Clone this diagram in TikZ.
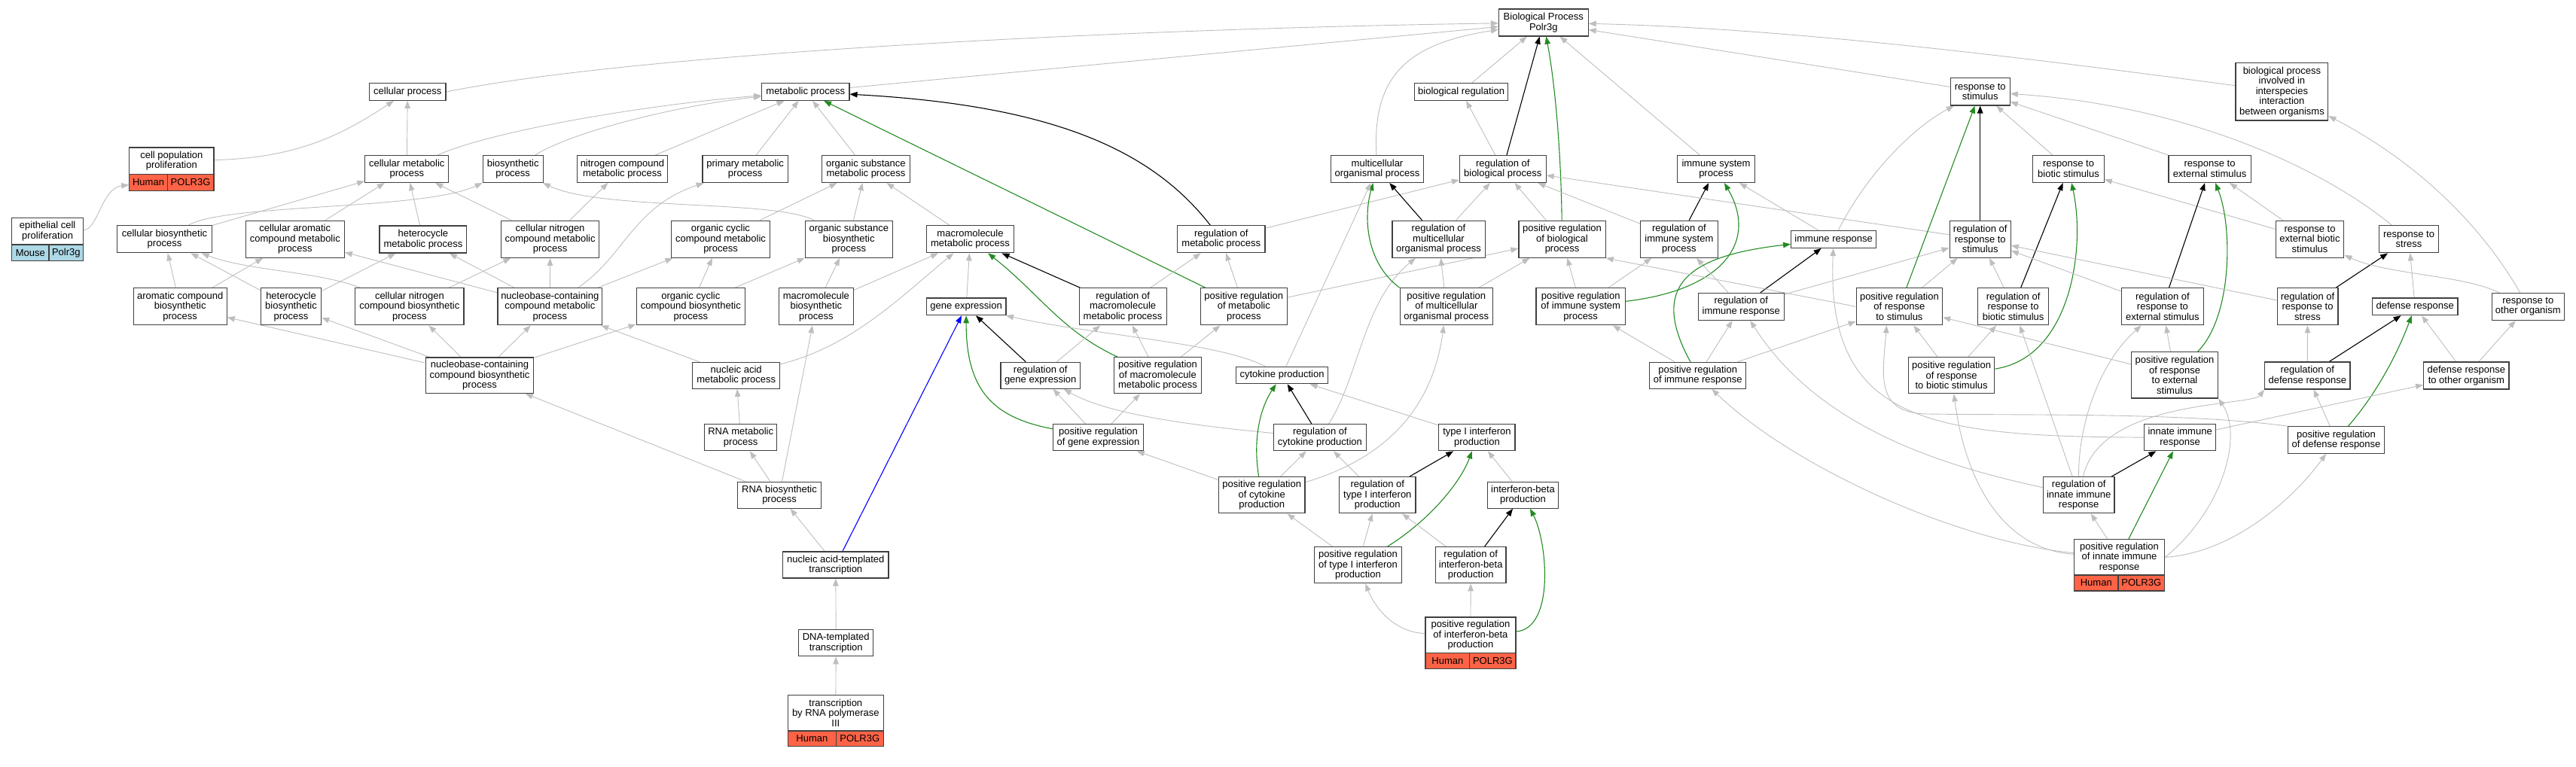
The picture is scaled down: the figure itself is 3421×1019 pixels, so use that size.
\documentclass[tikz,border=0pt]{standalone}
\usepackage{fontspec}
\setmainfont{Liberation Sans}
\usetikzlibrary{shapes,arrows.meta,positioning,backgrounds}
\definecolor{edgegray}{RGB}{190,190,190}
\definecolor{edgegreen}{RGB}{34,139,34}
\definecolor{edgeblue}{RGB}{0,0,255}
\definecolor{humanred}{RGB}{255,99,71}
\definecolor{mouseblue}{RGB}{173,216,230}
\definecolor{boxline}{RGB}{64,64,64}

\begin{document}
\begin{tikzpicture}[x=1pt, y=-1pt,
    term/.style={draw=boxline, line width=1.2pt, fill=white, rectangle, align=center, inner sep=0pt, font=\fontsize{13}{13.5}\selectfont},
    human/.style={term, fill=humanred},
    mouse/.style={term, fill=mouseblue},
    isa/.style={draw=edgegray, line width=0.9pt, -{Triangle[length=10pt,width=7.5pt]}},
    regl/.style={draw=black, line width=1.1pt, -{Triangle[length=10pt,width=7.5pt]}},
    posreg/.style={draw=edgegreen, line width=1.1pt, -{Triangle[length=10pt,width=7.5pt]}},
    partof/.style={draw=edgeblue, line width=1.1pt, -{Triangle[length=10pt,width=7.5pt]}}]
\useasboundingbox (0,0) rectangle (3421,1019);

% Root and first level
\node[term, minimum width=118.6, minimum height=36] (bp) at (2049.8,30) {Biological Process\\Polr3g};
\node[term, minimum width=101.4, minimum height=22.7] (cp) at (541.3,122) {cellular process};
\node[term, minimum width=116.3, minimum height=22.7] (mp) at (1069.8,122) {metabolic process};
\node[term, minimum width=124.3, minimum height=22.7] (breg) at (1940.6,122) {biological regulation};
\node[term, minimum width=78.9, minimum height=36.3] (rs) at (2629.7,121.8) {response to\\stimulus};
\node[term, minimum width=122.7, minimum height=76.3] (bpi) at (3030.4,121.8) {biological process\\involved in\\interspecies\\interaction\\between organisms};

% Second level
\node[term, minimum width=112.1, minimum height=35.7] (cpp) at (227.85,213.85) {cell population\\proliferation};
\node[human, minimum width=50.5, minimum height=21.6] (cppH) at (197.05,242.5) {Human};
\node[human, minimum width=61.6, minimum height=21.6] (cppG) at (253.1,242.5) {POLR3G};
\node[term, minimum width=111, minimum height=36] (cmp) at (540.3,224.5) {cellular metabolic\\process};
\node[term, minimum width=79.9, minimum height=36] (bsp) at (681.2,224.5) {biosynthetic\\process};
\node[term, minimum width=120.2, minimum height=36] (ncmp) at (826.4,224.5) {nitrogen compound\\metabolic process};
\node[term, minimum width=113.3, minimum height=36] (pmp) at (989.7,224.5) {primary metabolic\\process};
\node[term, minimum width=116.5, minimum height=36] (osmp) at (1149.9,224.5) {organic substance\\metabolic process};
\node[term, minimum width=123.2, minimum height=36] (mop) at (1829,224.5) {multicellular\\organismal process};
\node[term, minimum width=114.8, minimum height=36] (rbp) at (1995.8,224.5) {regulation of\\biological process};
\node[term, minimum width=103.1, minimum height=36] (isp) at (2279,224.5) {immune system\\process};
\node[term, minimum width=94.5, minimum height=36] (rbs) at (2747,224.5) {response to\\biotic stimulus};
\node[term, minimum width=109.2, minimum height=36] (res) at (2934.5,224.5) {response to\\external stimulus};

% Third level
\node[term, minimum width=94.9, minimum height=35.7] (ecp) at (63.15,307.15) {epithelial cell\\proliferation};
\node[mouse, minimum width=49.3, minimum height=21.7] (ecpM) at (40.35,335.85) {Mouse};
\node[mouse, minimum width=45.6, minimum height=21.7] (ecpG) at (87.8,335.85) {Polr3g};
\node[term, minimum width=125.6, minimum height=36] (cbp) at (218.5,317.8) {cellular biosynthetic\\process};
\node[term, minimum width=130.9, minimum height=49] (cacmp) at (391.8,317.8) {cellular aromatic\\compound metabolic\\process};
\node[term, minimum width=115.7, minimum height=36] (hmp) at (561.9,318) {heterocycle\\metabolic process};
\node[term, minimum width=130.5, minimum height=49] (cncmp) at (730.6,317.8) {cellular nitrogen\\compound metabolic\\process};
\node[term, minimum width=130.5, minimum height=49] (occmp) at (957,317.8) {organic cyclic\\compound metabolic\\process};
\node[term, minimum width=115.8, minimum height=49] (osbp) at (1127.3,317.8) {organic substance\\biosynthetic\\process};
\node[term, minimum width=116.3, minimum height=36] (mmp) at (1288.5,317.8) {macromolecule\\metabolic process};
\node[term, minimum width=116.3, minimum height=36] (rmp) at (1621.8,317.8) {regulation of\\metabolic process};
\node[term, minimum width=123.2, minimum height=49] (rmop) at (1910.5,317.8) {regulation of\\multicellular\\organismal process};
\node[term, minimum width=115.2, minimum height=49] (prbp) at (2074.5,317.8) {positive regulation\\of biological\\process};
\node[term, minimum width=102.9, minimum height=49] (risp) at (2229.9,317.8) {regulation of\\immune system\\process};
\node[term, minimum width=112.9, minimum height=22.7] (ir) at (2435.1,318) {immune response};
\node[term, minimum width=81.1, minimum height=49] (rrs) at (2629.7,317.8) {regulation of\\response to\\stimulus};
\node[term, minimum width=90.7, minimum height=49] (rebs) at (3067.5,317.8) {response to\\external biotic\\stimulus};
\node[term, minimum width=78.3, minimum height=36] (rst) at (3199,317.8) {response to\\stress};

% Fourth level
\node[term, minimum width=123.9, minimum height=49] (acbp) at (239.2,407.3) {aromatic compound\\biosynthetic\\process};
\node[term, minimum width=80.4, minimum height=49] (hbp) at (386.5,407.3) {heterocycle\\biosynthetic\\process};
\node[term, minimum width=144.1, minimum height=49] (cncbp) at (543.9,407.3) {cellular nitrogen\\compound biosynthetic\\process};
\node[term, minimum width=138.5, minimum height=49] (nccmp) at (730.3,407.3) {nucleobase-containing\\compound metabolic\\process};
\node[term, minimum width=144.3, minimum height=49] (occbp) at (917.3,407.3) {organic cyclic\\compound biosynthetic\\process};
\node[term, minimum width=98.8, minimum height=49] (mbp) at (1083.9,407.3) {macromolecule\\biosynthetic\\process};
\node[term, minimum width=105.6, minimum height=22.7] (ge) at (1283.1,407.3) {gene expression};
\node[term, minimum width=116, minimum height=49] (rmmp) at (1491.1,407.3) {regulation of\\macromolecule\\metabolic process};
\node[term, minimum width=115.2, minimum height=49] (prmp) at (1651.8,407.3) {positive regulation\\of metabolic\\process};
\node[term, minimum width=123.2, minimum height=49] (prmop) at (1920.8,407.3) {positive regulation\\of multicellular\\organismal process};
\node[term, minimum width=118.6, minimum height=49] (prisp) at (2099.2,407.3) {positive regulation\\of immune system\\process};
\node[term, minimum width=113.9, minimum height=36] (rir) at (2312.3,407.3) {regulation of\\immune response};
\node[term, minimum width=114.4, minimum height=49] (prrs) at (2522.4,407.3) {positive regulation\\of response\\to stimulus};
\node[term, minimum width=94.5, minimum height=49] (rrbs) at (2673.6,407.3) {regulation of\\response to\\biotic stimulus};
\node[term, minimum width=109.2, minimum height=49] (rres) at (2871.9,407.3) {regulation of\\response to\\external stimulus};
\node[term, minimum width=80.8, minimum height=49] (rrst) at (3064.5,407.3) {regulation of\\response to\\stress};
\node[term, minimum width=113.6, minimum height=22.7] (dr) at (3207.2,407.3) {defense response};
\node[term, minimum width=96.1, minimum height=36] (rog) at (3357.3,407.3) {response to\\other organism};

% Fifth level
\node[term, minimum width=143.7, minimum height=47.3] (ncbp) at (637,498.7) {nucleobase-containing\\compound biosynthetic\\process};
\node[term, minimum width=116.1, minimum height=35] (namp) at (977.7,498.8) {nucleic acid\\metabolic process};
\node[term, minimum width=105.4, minimum height=35] (rge) at (1381.7,498.8) {regulation of\\gene expression};
\node[term, minimum width=116, minimum height=48] (prmmp) at (1537.5,498.8) {positive regulation\\of macromolecule\\metabolic process};
\node[term, minimum width=122.7, minimum height=22.5] (cytp) at (1702.5,498.5) {cytokine production};
\node[term, minimum width=128.2, minimum height=35] (prir) at (2254.7,498.8) {positive regulation\\of immune response};
\node[term, minimum width=114.3, minimum height=48] (prrbs) at (2591.6,498.8) {positive regulation\\of response\\to biotic stimulus};
\node[term, minimum width=115.1, minimum height=61.3] (prres) at (2888,498.3) {positive regulation\\of response\\to external\\stimulus};
\node[term, minimum width=113.3, minimum height=36] (rdr) at (3064.3,499) {regulation of\\defense response};
\node[term, minimum width=113.3, minimum height=36] (drog) at (3275.3,499) {defense response\\to other organism};

% Sixth level
\node[term, minimum width=96, minimum height=35] (rnamp) at (983.7,581.3) {RNA metabolic\\process};
\node[term, minimum width=119.6, minimum height=35] (prge) at (1458.5,581.3) {positive regulation\\of gene expression};
\node[term, minimum width=122.8, minimum height=35] (rcp) at (1752.9,581.3) {regulation of\\cytokine production};
\node[term, minimum width=101.3, minimum height=35] (t1ip) at (1961.4,581.3) {type I interferon\\production};
\node[term, minimum width=94.6, minimum height=35] (iir) at (2895.1,581.3) {innate immune\\response};
\node[term, minimum width=128.4, minimum height=35.6] (prdr) at (3102.5,584.5) {positive regulation\\of defense response};

% Seventh level
\node[term, minimum width=111.1, minimum height=35] (rnabp) at (1035,657.7) {RNA biosynthetic\\process};
\node[term, minimum width=114.7, minimum height=48] (prcp) at (1675.7,657.8) {positive regulation\\of cytokine\\production};
\node[term, minimum width=101.3, minimum height=48] (rt1ip) at (1829.3,657.8) {regulation of\\type I interferon\\production};
\node[term, minimum width=93.3, minimum height=35] (ibp) at (2022.5,657.7) {interferon-beta\\production};
\node[term, minimum width=94.6, minimum height=48] (riir) at (2760.7,657.8) {regulation of\\innate immune\\response};

% Eighth level and below
\node[term, minimum width=140.2, minimum height=35] (natt) at (1109.8,750.5) {nucleic acid-templated\\transcription};
\node[term, minimum width=115.7, minimum height=48] (prt1ip) at (1803.4,750.8) {positive regulation\\of type I interferon\\production};
\node[term, minimum width=93.7, minimum height=48] (ribp) at (1953.2,750.8) {regulation of\\interferon-beta\\production};
\node[term, minimum width=120.1, minimum height=47.3] (priir) at (2814.55,740.35) {positive regulation\\of innate immune\\response};
\node[human, minimum width=58.5, minimum height=21] (priirH) at (2783.75,774.5) {Human};
\node[human, minimum width=61.6, minimum height=21] (priirG) at (2843.8,774.5) {POLR3G};
\node[term, minimum width=99.1, minimum height=35] (dtt) at (1110.2,854.2) {DNA-templated\\transcription};
\node[term, minimum width=120, minimum height=47.7] (pribp) at (1952.9,843.85) {positive regulation\\of interferon-beta\\production};
\node[human, minimum width=58.9, minimum height=20.6] (pribpH) at (1922.35,878) {Human};
\node[human, minimum width=61.1, minimum height=20.6] (pribpG) at (1982.35,878) {POLR3G};
\node[term, minimum width=126.8, minimum height=47.7] (trp3) at (1109.8,947.15) {transcription\\by RNA polymerase\\III};
\node[human, minimum width=63.9, minimum height=20.7] (trp3H) at (1078.35,981.35) {Human};
\node[human, minimum width=62.9, minimum height=20.7] (trp3G) at (1141.75,981.35) {POLR3G};

\begin{scope}[on background layer]
% Connections to the root
\draw[isa] (cp.east) .. controls (850,70) and (1500,38) .. (bp);
\draw[isa] (mp) -- (bp);
\draw[isa] (mop) .. controls (1822,100) and (1870,58) .. (bp);
\draw[isa] (breg) -- (bp);
\draw[regl] (rbp) -- (bp);
\draw[posreg] (prbp) .. controls (2073,200) and (2065,110) .. (bp);
\draw[isa] (isp) -- (bp);
\draw[isa] (rs) -- (bp);
\draw[isa] (bpi) .. controls (2750,85) and (2400,38) .. (bp);

% Cellular and metabolic branch
\draw[isa] (cpp) .. controls (400,210) and (460,175) .. (cp);
\draw[isa] (ecp) .. controls (130,305) and (135,250) .. (cppH);
\draw[isa] (cmp) -- (cp);
\draw[isa] (cmp) .. controls (650,175) and (850,140) .. (mp);
\draw[isa] (bsp) .. controls (760,175) and (900,140) .. (mp);
\draw[isa] (ncmp) -- (mp);
\draw[isa] (pmp) -- (mp);
\draw[isa] (osmp) -- (mp);
\draw[posreg] (prmp) -- (mp);
\draw[regl] (rmp) .. controls (1530,200) and (1400,140) .. (mp);
\draw[isa] (rbp) -- (breg);
\draw[isa] (cbp) -- (cmp);
\draw[isa] (cbp) .. controls (300,270) and (560,280) .. (bsp);
\draw[isa] (cacmp) -- (cmp);
\draw[isa] (hmp) -- (cmp);
\draw[isa] (cncmp) -- (cmp);
\draw[isa] (cncmp) -- (ncmp);
\draw[isa] (nccmp) -- (cacmp);
\draw[isa] (nccmp) -- (hmp);
\draw[isa] (nccmp) -- (cncmp);
\draw[isa] (nccmp) -- (occmp);
\draw[isa] (nccmp) .. controls (830,340) and (840,275) .. (pmp);
\draw[isa] (occmp) -- (osmp);
\draw[isa] (osbp) -- (osmp);
\draw[isa] (osbp) .. controls (1030,265) and (800,280) .. (bsp);
\draw[isa] (mmp) -- (osmp);
\draw[isa] (acbp) -- (cbp);
\draw[isa] (acbp) -- (cacmp);
\draw[isa] (hbp) -- (cbp);
\draw[isa] (hbp) -- (hmp);
\draw[isa] (cncbp) .. controls (420,360) and (330,360) .. (cbp);
\draw[isa] (cncbp) -- (cncmp);
\draw[isa] (ncbp) -- (acbp);
\draw[isa] (ncbp) -- (hbp);
\draw[isa] (ncbp) -- (cncbp);
\draw[isa] (ncbp) -- (nccmp);
\draw[isa] (ncbp) -- (occbp);
\draw[isa] (occbp) -- (occmp);
\draw[isa] (occbp) -- (osbp);
\draw[isa] (mbp) -- (osbp);
\draw[isa] (mbp) -- (mmp);
\draw[isa] (namp) .. controls (1130,460) and (1190,400) .. (mmp);
\draw[isa] (namp) -- (nccmp);
\draw[isa] (ge) -- (mmp);
\draw[regl] (rmmp) -- (mmp);
\draw[posreg] (prmmp) .. controls (1410,440) and (1380,390) .. (mmp);
\draw[isa] (rmmp) -- (rmp);
\draw[isa] (prmp) -- (rmp);
\draw[isa] (rmp) -- (rbp);
\draw[isa] (prmp) -- (prbp);
\draw[isa] (prmmp) -- (rmmp);
\draw[isa] (prmmp) -- (prmp);

% Gene expression and transcription
\draw[regl] (rge) -- (ge);
\draw[isa] (rge) -- (rmmp);
\draw[partof] (natt) -- (ge);
\draw[posreg] (prge) .. controls (1320,555) and (1283,520) .. (ge);
\draw[isa] (cytp) .. controls (1620,455) and (1450,445) .. (ge);
\draw[isa] (prge) -- (rge);
\draw[isa] (prge) -- (prmmp);
\draw[isa] (rnamp) -- (namp);
\draw[isa] (rnabp) -- (rnamp);
\draw[isa] (rnabp) -- (ncbp);
\draw[isa] (rnabp) -- (mbp);
\draw[isa] (natt) -- (rnabp);
\draw[isa] (dtt) -- (natt);
\draw[isa] (trp3) -- (dtt);

% Cytokine and interferon
\draw[isa] (rcp) .. controls (1580,565) and (1470,550) .. (rge);
\draw[regl] (rcp) -- (cytp);
\draw[isa] (rcp) .. controls (1805,500) and (1810,400) .. (rmop);
\draw[posreg] (prcp) .. controls (1663,580) and (1675,540) .. (cytp);
\draw[isa] (prcp) -- (rcp);
\draw[isa] (prcp) -- (prge);
\draw[isa] (prcp) .. controls (1820,615) and (1900,560) .. (prmop);
\draw[isa] (t1ip) -- (cytp);
\draw[isa] (rt1ip) -- (rcp);
\draw[regl] (rt1ip) -- (t1ip);
\draw[isa] (prt1ip) -- (prcp);
\draw[isa] (prt1ip) -- (rt1ip);
\draw[posreg] (prt1ip) .. controls (1900,690) and (1940,640) .. (t1ip);
\draw[isa] (ibp) -- (t1ip);
\draw[regl] (ribp) -- (ibp);
\draw[isa] (ribp) -- (rt1ip);
\draw[isa] (pribp) .. controls (1850,840) and (1825,805) .. (prt1ip);
\draw[isa] (pribp) -- (ribp);
\draw[posreg] (pribp) .. controls (2065,835) and (2055,720) .. (ibp);

% Multicellular and biological regulation
\draw[regl] (rmop) -- (mop);
\draw[posreg] (prmop.north west) .. controls (1815,350) and (1810,290) .. (mop);
\draw[isa] (cytp) -- (mop);
\draw[isa] (rmop) -- (rbp);
\draw[isa] (prbp) -- (rbp);
\draw[isa] (prmop) -- (rmop);
\draw[isa] (prmop) -- (prbp);

% Immune system
\draw[regl] (risp) -- (isp);
\draw[isa] (risp) -- (rbp);
\draw[isa] (ir) -- (isp);
\draw[isa] (rrs) -- (rbp);
\draw[posreg] (prisp) .. controls (2290,385) and (2335,320) .. (isp);
\draw[isa] (prisp) -- (risp);
\draw[isa] (prisp) -- (prbp);
\draw[regl] (rir) -- (ir);
\draw[isa] (rir) -- (risp);
\draw[isa] (rir) -- (rrs);
\draw[posreg] (prir) .. controls (2190,380) and (2240,340) .. (ir);
\draw[isa] (prir) -- (prisp);
\draw[isa] (prir) -- (rir);
\draw[isa] (prir) -- (prrs);

% Response to stimulus
\draw[isa] (ir) .. controls (2480,230) and (2540,170) .. (rs);
\draw[regl] (rrs) -- (rs);
\draw[posreg] (prrs) -- (rs);
\draw[isa] (rbs) -- (rs);
\draw[isa] (res) -- (rs);
\draw[isa] (rst) .. controls (3080,220) and (2900,140) .. (rs);
\draw[regl] (rrbs) -- (rbs);
\draw[posreg] (prrbs) .. controls (2750,475) and (2770,330) .. (rbs);
\draw[isa] (rebs) -- (rbs);
\draw[regl] (rres) -- (res);
\draw[posreg] (prres) .. controls (2965,420) and (2965,300) .. (res);
\draw[isa] (rebs) -- (res);
\draw[regl] (rrst) -- (rst);
\draw[isa] (dr) -- (rst);
\draw[isa] (rog) .. controls (3270,365) and (3170,365) .. (rebs);
\draw[isa] (rog) .. controls (3290,290) and (3200,210) .. (bpi);
\draw[isa] (prrs) -- (rrs);
\draw[isa] (prrs.west) -- (prbp.south east);
\draw[isa] (rrbs) -- (rrs);
\draw[isa] (prrbs) -- (rrbs);
\draw[isa] (prrbs) -- (prrs);
\draw[isa] (rres) -- (rrs);
\draw[isa] (rrst) -- (rrs);
\draw[isa] (prres) -- (rres);
\draw[isa] (prres) -- (prrs);

% Defense and innate immunity
\draw[isa] (rdr) -- (rrst);
\draw[regl] (rdr) -- (dr);
\draw[isa] (drog) -- (dr);
\draw[isa] (drog) -- (rog);
\draw[posreg] (prdr) .. controls (3150,530) and (3180,480) .. (dr);
\draw[isa] (prdr) -- (rdr);
\coordinate (bendA) at (2560,550);
\draw[isa] (prdr.north west) .. controls (2900,548) and (2700,552) .. (bendA) .. controls (2490,549) and (2500,500) .. (prrs.236);
\draw[isa] (iir) .. controls (2560,580) and (2425,560) .. (ir);
\draw[isa] (iir) -- (drog);
\draw[regl] (riir) -- (iir);
\draw[posreg] (priir) -- (iir);
\draw[isa] (riir) .. controls (2560,615) and (2410,560) .. (rir);
\draw[isa] (riir) -- (rrbs);
\draw[isa] (riir) .. controls (2760,560) and (2790,480) .. (rres);
\draw[isa] (riir) .. controls (2790,530) and (2990,540) .. (rdr.south west);
\draw[isa] (priir) -- (riir);
\draw[isa] (priir) .. controls (2600,720) and (2380,620) .. (prir);
\draw[isa] (priir) .. controls (2660,730) and (2610,640) .. (prrbs);
\draw[isa] (priir.east) .. controls (2950,680) and (2980,580) .. (prres.south east);
\draw[isa] (priir.east) .. controls (2960,735) and (3040,670) .. (prdr);
\end{scope}
\end{tikzpicture}
\end{document}
